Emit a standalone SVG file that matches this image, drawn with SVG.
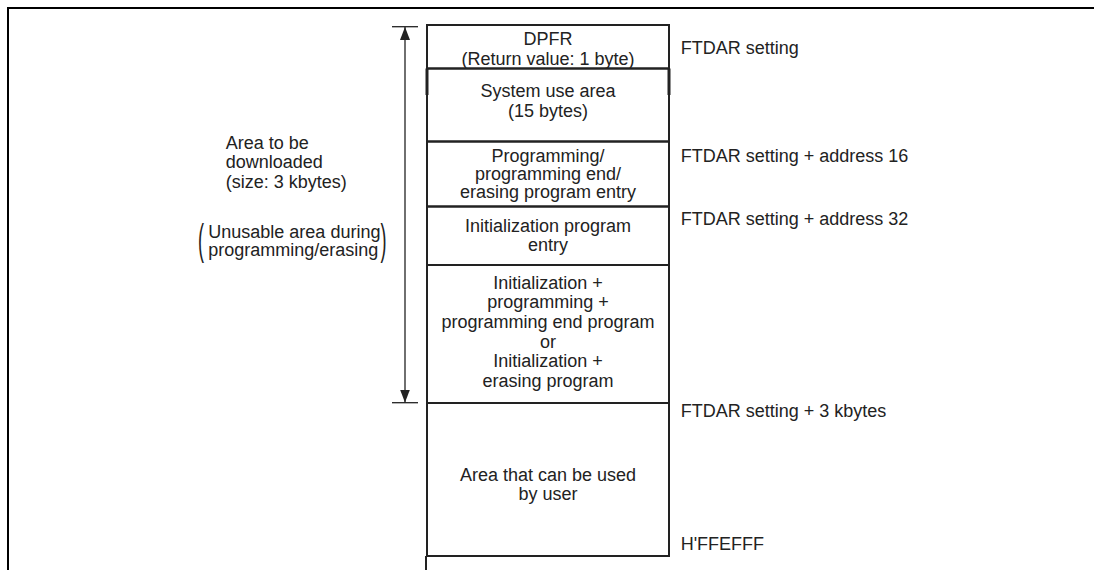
<svg xmlns="http://www.w3.org/2000/svg" width="1095" height="570" viewBox="0 0 1095 570">
<style>
text{font-family:"Liberation Sans",Arial,sans-serif;font-size:18px;fill:#222}
.c{text-anchor:middle}
.box{fill:none;stroke:#222;stroke-width:2}
.ln{stroke:#222;stroke-width:2;fill:none}
.thin{stroke:#222;stroke-width:1.3;fill:none}
</style>
<defs>
<marker id="ah" viewBox="0 0 13 10" refX="13" refY="5" markerWidth="13" markerHeight="10" markerUnits="userSpaceOnUse" orient="auto-start-reverse">
<path d="M0,0 L13,5 L0,10 Z" fill="#222"/>
</marker>
</defs>
<rect width="1095" height="570" fill="#fff"/>
<g id="frame">
<path d="M8,570 V8 H1094" stroke="#000" stroke-width="2" fill="none"/>
</g>
<g id="memory">
<g id="n-dpfr">
<rect class="box" x="427" y="25" width="242" height="43.5"/>
<text class="c" x="548" y="44.5">DPFR</text>
<text class="c" x="548" y="64.5">(Return value: 1 byte)</text>
</g>
<g id="n-system">
<rect class="box" x="427" y="68.5" width="242" height="73"/>
<line x1="427" y1="68.5" x2="427" y2="95" stroke="#222" stroke-width="3"/>
<line x1="669" y1="68.5" x2="669" y2="95" stroke="#222" stroke-width="3"/>
<text class="c" x="548" y="96.7">System use area</text>
<text class="c" x="548" y="116.7">(15 bytes)</text>
</g>
<g id="n-prog-entry">
<rect class="box" x="427" y="141.5" width="242" height="65"/>
<text class="c" x="548" y="161.7">Programming/</text>
<text class="c" x="548" y="180">programming end/</text>
<text class="c" x="548" y="198.3">erasing program entry</text>
</g>
<g id="n-init-entry">
<rect class="box" x="427" y="206.5" width="242" height="58.5"/>
<text class="c" x="548" y="231.7">Initialization program</text>
<text class="c" x="548" y="250.7">entry</text>
</g>
<g id="n-program">
<rect class="box" x="427" y="265" width="242" height="138"/>
<text class="c" x="548" y="289">Initialization +</text>
<text class="c" x="548" y="308.3">programming +</text>
<text class="c" x="548" y="328.3">programming end program</text>
<text class="c" x="548" y="348">or</text>
<text class="c" x="548" y="367">Initialization +</text>
<text class="c" x="548" y="386.7">erasing program</text>
</g>
<g id="n-user">
<rect class="box" x="427" y="403" width="242" height="153"/>
<line x1="426" y1="556" x2="426" y2="570" stroke="#222" stroke-width="2"/>
<text class="c" x="548" y="481">Area that can be used</text>
<text class="c" x="548" y="500">by user</text>
</g>
</g>
<g id="addresses">
<text x="680.7" y="54">FTDAR setting</text>
<text x="680.7" y="161.7">FTDAR setting + address 16</text>
<text x="680.7" y="225">FTDAR setting + address 32</text>
<text x="680.7" y="416.7">FTDAR setting + 3 kbytes</text>
<text x="680.7" y="550">H'FFEFFF</text>
</g>
<g id="connectors">
<line class="thin" x1="392" y1="26.7" x2="418" y2="26.7"/>
<line class="thin" x1="392" y1="402.7" x2="418" y2="402.7"/>
<line class="thin" x1="405" y1="27" x2="405" y2="402.5" marker-start="url(#ah)" marker-end="url(#ah)"/>
</g>
<g id="n-download-label">
<text x="225.7" y="149.3">Area to be</text>
<text x="225.7" y="168.3">downloaded</text>
<text x="225.7" y="188.3">(size: 3 kbytes)</text>
<text transform="translate(198,254.4) scale(1,2.4)">(</text>
<text x="208.3" y="237.7">Unusable area during</text>
<text x="208.3" y="256">programming/erasing</text>
<text transform="translate(380.5,254.4) scale(1,2.4)">)</text>
</g>
</svg>
